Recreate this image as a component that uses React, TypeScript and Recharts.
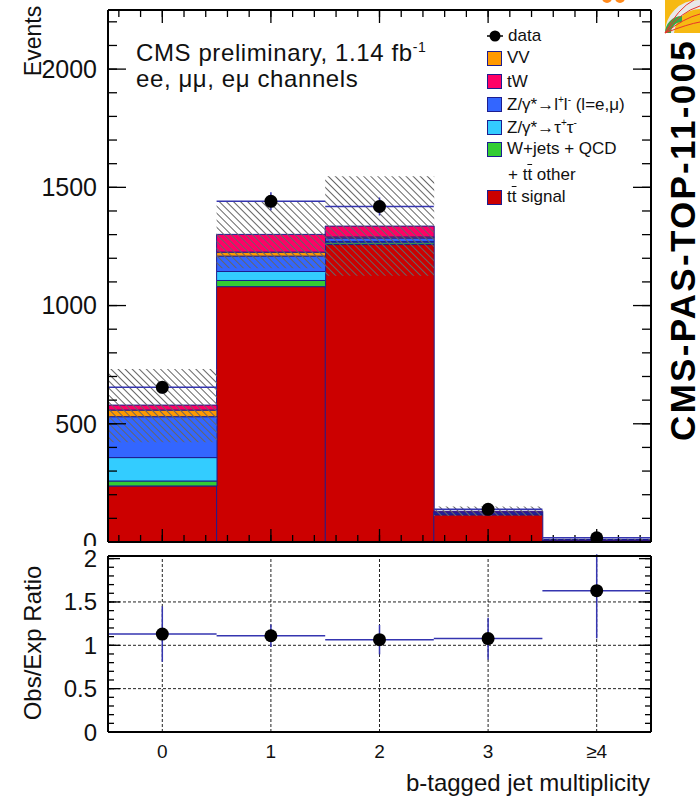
import React from "react";
import {
  ComposedChart,
  Bar,
  Scatter,
  XAxis,
  YAxis,
  ErrorBar,
  ReferenceLine,
} from "recharts";

const binLabels = ["0", "1", "2", "3", "≥4"];
const binCenters = [0, 1, 2, 3, 4];

// stacked expectation, bottom to top
const ttSignal = [237, 1080, 1258, 115, 9];
const wjetsQcd = [21, 26, 8, 3, 0.5];
const zTauTau = [99, 38, 5, 2, 0.3];
const zLL = [173, 65, 14, 5, 0.5];
const diboson = [28, 17, 5, 1, 0.2];
const singleTopTW = [21, 75, 46, 4, 0.5];

const observed = [654, 1441, 1419, 138, 18];
const observedErr = [26, 38, 38, 12, 4];
const systLow = [422, 1158, 1126, 110, 8];
const systHigh = [732, 1440, 1547, 150, 14];

const ratio = [1.13, 1.11, 1.065, 1.077, 1.63];
const ratioErr = [
  [0.32, 0.32],
  [0.13, 0.13],
  [0.17, 0.17],
  [0.24, 0.24],
  [0.55, 0.42],
];

const eventTicks = [0, 500, 1000, 1500, 2000];
const eventMinor = Array.from({ length: 23 }, (_, i) => i * 100);
const binMinor = Array.from({ length: 25 }, (_, i) => Math.round((-0.4 + i * 0.2) * 10) / 10);
const ratioTicks = [0, 0.5, 1, 1.5, 2];
const ratioMinor = Array.from({ length: 21 }, (_, i) => i / 10);
const ratioGrid = [0.5, 1, 1.5];

const X_DOM = [-0.5, 4.5];
const EV_DOM = [0, 2250];
const R_DOM = [0, 2.03];

const C = {
  tt: "#cc0000",
  wj: "#33cc33",
  ztt: "#33ccff",
  zll: "#3366ff",
  vv: "#ff9900",
  tw: "#ff0066",
  edge: "#1d1d8f",
  err: "#3535b0",
};

const FONT = '"Liberation Sans", Arial, Helvetica, sans-serif';
const INK = "#111";
const frameStroke = { stroke: "#000", strokeWidth: 2 };
const noLabel = () => <g />;

// plot-area sizes, used to turn tick lengths in px into data units
const PLOT_W = 543;
const MAIN_H = 532;
const xPerPx = (X_DOM[1] - X_DOM[0]) / PLOT_W;
const evPerPx = (EV_DOM[1] - EV_DOM[0]) / MAIN_H;

const rows = binLabels.map((label, i) => ({
  label,
  x: binCenters[i],
  tt: ttSignal[i],
  wj: wjetsQcd[i],
  ztt: zTauTau[i],
  zll: zLL[i],
  vv: diboson[i],
  tw: singleTopTW[i],
  syst: [systLow[i], systHigh[i]],
  data: observed[i],
  dataErr: observedErr[i],
  halfBin: 0.5,
  ratio: ratio[i],
  ratioErr: ratioErr[i],
}));

const DataDot = (p: any) => <circle cx={p.cx} cy={p.cy} r={6.5} fill="#000" />;

// inward ROOT-style ticks on left and right frame
function sideTicks(prefix: string, yAxisId: string, values: number[], lenPx: number) {
  const len = lenPx * xPerPx;
  return values.flatMap((v) => [
    <ReferenceLine
      key={`${prefix}l${v}`}
      xAxisId="bin"
      yAxisId={yAxisId}
      segment={[{ x: X_DOM[0], y: v }, { x: X_DOM[0] + len, y: v }]}
      stroke="#000"
      strokeWidth={1.3}
      ifOverflow="visible"
    />,
    <ReferenceLine
      key={`${prefix}r${v}`}
      xAxisId="bin"
      yAxisId={yAxisId}
      segment={[{ x: X_DOM[1] - len, y: v }, { x: X_DOM[1], y: v }]}
      stroke="#000"
      strokeWidth={1.3}
      ifOverflow="visible"
    />,
  ]);
}

// inward ticks on bottom and top frame of the upper pad
function edgeTicks(prefix: string, values: number[], lenPx: number) {
  const len = lenPx * evPerPx;
  return values.flatMap((v) => [
    <ReferenceLine
      key={`${prefix}b${v}`}
      xAxisId="bin"
      yAxisId="ev"
      segment={[{ x: v, y: EV_DOM[0] }, { x: v, y: EV_DOM[0] + len }]}
      stroke="#000"
      strokeWidth={1.3}
      ifOverflow="visible"
    />,
    <ReferenceLine
      key={`${prefix}t${v}`}
      xAxisId="bin"
      yAxisId="ev"
      segment={[{ x: v, y: EV_DOM[1] - len }, { x: v, y: EV_DOM[1] }]}
      stroke="#000"
      strokeWidth={1.3}
      ifOverflow="visible"
    />,
  ]);
}

const legendItems = [
  { key: "data", y: 36 },
  { key: "vv", y: 58, color: C.vv, text: <>VV</> },
  { key: "tw", y: 81.5, color: C.tw, text: <>tW</> },
  {
    key: "zll",
    y: 104.5,
    color: C.zll,
    text: (
      <>
        Z/γ*→l<sup style={{ fontSize: 10 }}>+</sup>l<sup style={{ fontSize: 10 }}>-</sup> (l=e,μ)
      </>
    ),
  },
  {
    key: "ztt",
    y: 127,
    color: C.ztt,
    text: (
      <>
        Z/γ*→τ<sup style={{ fontSize: 10 }}>+</sup>τ<sup style={{ fontSize: 10 }}>-</sup>
      </>
    ),
  },
  { key: "wj", y: 149, color: C.wj, text: <>W+jets + QCD</> },
  {
    key: "other",
    y: 175,
    text: (
      <>
        + t<span style={{ textDecoration: "overline" }}>t</span> other
      </>
    ),
  },
  {
    key: "tt",
    y: 197,
    color: C.tt,
    text: (
      <>
        t<span style={{ textDecoration: "overline" }}>t</span> signal
      </>
    ),
  },
];

function rotated(text: string, cx: number, cy: number, style: React.CSSProperties) {
  return (
    <div
      style={{
        position: "absolute",
        left: cx,
        top: cy,
        transform: "translate(-50%, -50%) rotate(-90deg)",
        whiteSpace: "nowrap",
        fontFamily: FONT,
        color: INK,
        lineHeight: 1,
        ...style,
      }}
    >
      {text}
    </div>
  );
}

export default function App() {
  return (
    <div
      style={{
        position: "absolute",
        left: 0,
        top: 0,
        width: 700,
        height: 799,
        background: "#fff",
        overflow: "hidden",
        fontFamily: FONT,
      }}
    >
      {/* upper pad; its "0" label is partly hidden by the ratio pad, as in ROOT */}
      <div style={{ position: "absolute", left: 0, top: 0, width: 700, height: 546, overflow: "hidden" }}>
        <ComposedChart
          width={700}
          height={560}
          data={rows}
          margin={{ top: 10, right: 49, bottom: 18, left: 0 }}
          barCategoryGap={0}
          barGap={0}
        >
          <defs>
            <pattern id="hatch" patternUnits="userSpaceOnUse" width="5" height="5" patternTransform="rotate(-45)">
              <line x1="2.5" y1="0" x2="2.5" y2="5" stroke="#666" strokeWidth="1" />
            </pattern>
          </defs>
          <XAxis xAxisId="cat" dataKey="label" type="category" hide />
          <XAxis xAxisId="band" dataKey="label" type="category" hide />
          <XAxis
            xAxisId="bin"
            dataKey="x"
            type="number"
            domain={X_DOM}
            allowDataOverflow
            ticks={binCenters}
            interval={0}
            orientation="bottom"
            mirror
            height={0.01}
            tick={noLabel}
            tickLine={false}
            axisLine={frameStroke}
          />
          <XAxis
            xAxisId="top"
            type="number"
            domain={X_DOM}
            allowDataOverflow
            ticks={binCenters}
            interval={0}
            orientation="top"
            mirror
            height={0.01}
            tick={noLabel}
            tickLine={false}
            axisLine={frameStroke}
          />
          <YAxis
            yAxisId="ev"
            type="number"
            domain={EV_DOM}
            allowDataOverflow
            ticks={eventTicks}
            interval={0}
            width={108}
            tickLine={false}
            tickSize={0}
            tickMargin={11}
            axisLine={frameStroke}
            tick={{ fontSize: 25, fill: INK, fontFamily: FONT }}
          />
          <YAxis
            yAxisId="right"
            type="number"
            domain={EV_DOM}
            ticks={eventTicks}
            interval={0}
            orientation="right"
            mirror
            width={0.01}
            tick={noLabel}
            tickLine={false}
            axisLine={frameStroke}
          />
          <YAxis yAxisId="scat" dataKey="data" type="number" domain={EV_DOM} allowDataOverflow hide />

          <Bar xAxisId="cat" yAxisId="ev" dataKey="tt" stackId="mc" fill={C.tt} stroke={C.edge} strokeWidth={1} isAnimationActive={false} />
          <Bar xAxisId="cat" yAxisId="ev" dataKey="wj" stackId="mc" fill={C.wj} stroke={C.edge} strokeWidth={1} isAnimationActive={false} />
          <Bar xAxisId="cat" yAxisId="ev" dataKey="ztt" stackId="mc" fill={C.ztt} stroke={C.edge} strokeWidth={1} isAnimationActive={false} />
          <Bar xAxisId="cat" yAxisId="ev" dataKey="zll" stackId="mc" fill={C.zll} stroke={C.edge} strokeWidth={1} isAnimationActive={false} />
          <Bar xAxisId="cat" yAxisId="ev" dataKey="vv" stackId="mc" fill={C.vv} stroke={C.edge} strokeWidth={1} isAnimationActive={false} />
          <Bar xAxisId="cat" yAxisId="ev" dataKey="tw" stackId="mc" fill={C.tw} stroke={C.edge} strokeWidth={1} isAnimationActive={false} />
          {/* systematic band, hatched over the stack */}
          <Bar xAxisId="band" yAxisId="ev" dataKey="syst" fill="url(#hatch)" stroke="none" isAnimationActive={false} />

          {sideTicks("evM", "ev", eventTicks, 18)}
          {sideTicks("evm", "ev", eventMinor, 9)}
          {edgeTicks("bM", binCenters, 13)}
          {edgeTicks("bm", binMinor, 7)}

          <Scatter xAxisId="bin" yAxisId="scat" dataKey="data" shape={DataDot} isAnimationActive={false}>
            <ErrorBar dataKey="halfBin" direction="x" width={0} stroke={C.err} strokeWidth={1.5} />
            <ErrorBar dataKey="dataErr" direction="y" width={0} stroke={C.err} strokeWidth={1.5} />
          </Scatter>
        </ComposedChart>
      </div>

      {/* ratio pad */}
      <div style={{ position: "absolute", left: 0, top: 546, width: 700, height: 254, overflow: "hidden" }}>
        <ComposedChart width={700} height={254} data={rows} margin={{ top: 10, right: 49, bottom: 0, left: 0 }}>
          <XAxis
            xAxisId="bin"
            dataKey="x"
            type="number"
            domain={X_DOM}
            allowDataOverflow
            ticks={binCenters}
            interval={0}
            tickFormatter={(v: number) => binLabels[binCenters.indexOf(v)]}
            height={68}
            tickLine={false}
            tickSize={0}
            tickMargin={13}
            axisLine={frameStroke}
            tick={{ fontSize: 19, fill: INK, fontFamily: FONT }}
          />
          <XAxis
            xAxisId="top"
            type="number"
            domain={X_DOM}
            allowDataOverflow
            ticks={binCenters}
            interval={0}
            orientation="top"
            mirror
            height={0.01}
            tick={noLabel}
            tickLine={false}
            axisLine={frameStroke}
          />
          <YAxis
            yAxisId="r"
            dataKey="ratio"
            type="number"
            domain={R_DOM}
            allowDataOverflow
            ticks={ratioTicks}
            interval={0}
            width={108}
            tickLine={false}
            tickSize={0}
            tickMargin={11}
            axisLine={frameStroke}
            tick={{ fontSize: 24, fill: INK, fontFamily: FONT }}
          />
          <YAxis
            yAxisId="right"
            type="number"
            domain={R_DOM}
            ticks={ratioTicks}
            interval={0}
            orientation="right"
            mirror
            width={0.01}
            tick={noLabel}
            tickLine={false}
            axisLine={frameStroke}
          />

          {ratioGrid.map((v) => (
            <ReferenceLine key={`h${v}`} xAxisId="bin" yAxisId="r" y={v} stroke="#222" strokeWidth={1} strokeDasharray="3 2" />
          ))}
          {binCenters.map((v) => (
            <ReferenceLine key={`v${v}`} xAxisId="bin" yAxisId="r" x={v} stroke="#222" strokeWidth={1} strokeDasharray="3 2" />
          ))}
          {sideTicks("rM", "r", ratioTicks, 12)}
          {sideTicks("rm", "r", ratioMinor, 6)}

          <Scatter xAxisId="bin" yAxisId="r" dataKey="ratio" shape={DataDot} isAnimationActive={false}>
            <ErrorBar dataKey="halfBin" direction="x" width={0} stroke={C.err} strokeWidth={1.5} />
            <ErrorBar dataKey="ratioErr" direction="y" width={0} stroke={C.err} strokeWidth={1.5} />
          </Scatter>
        </ComposedChart>
      </div>

      {/* titles */}
      {rotated("Events", 33, 41, { fontSize: 23 })}
      {rotated("Obs/Exp Ratio", 33, 643, { fontSize: 24 })}
      <div
        style={{
          position: "absolute",
          right: 50,
          top: 771,
          fontSize: 24,
          lineHeight: "24px",
          color: INK,
          whiteSpace: "nowrap",
        }}
      >
        b-tagged jet multiplicity
      </div>

      <div style={{ position: "absolute", left: 136, top: 35, fontSize: 24, lineHeight: "24px", color: INK, whiteSpace: "nowrap", letterSpacing: 0.6 }}>
        CMS preliminary, 1.14 fb<sup style={{ fontSize: 14 }}>-1</sup>
      </div>
      <div style={{ position: "absolute", left: 136, top: 67, fontSize: 24, lineHeight: "24px", color: INK, whiteSpace: "nowrap", letterSpacing: 0.6 }}>
        ee, μμ, eμ channels
      </div>

      {/* legend */}
      {legendItems.map((it) => (
        <div
          key={it.key}
          style={{
            position: "absolute",
            left: 487,
            top: it.y - 10,
            height: 20,
            display: "flex",
            alignItems: "center",
            fontSize: 17,
            color: INK,
            whiteSpace: "nowrap",
          }}
        >
          {it.key === "data" ? (
            <svg width={16} height={16} style={{ marginRight: 5 }}>
              <line x1={0} y1={8} x2={16} y2={8} stroke="#000" strokeWidth={1.5} />
              <circle cx={8} cy={8} r={5.5} fill="#000" />
            </svg>
          ) : it.color ? (
            <div
              style={{
                width: 13,
                height: 13,
                background: it.color,
                border: `1.5px solid ${C.edge}`,
                marginRight: 5,
              }}
            />
          ) : (
            <div style={{ width: 16, marginRight: 5 }} />
          )}
          <span>{it.key === "data" ? "data" : it.text}</span>
        </div>
      ))}

      {/* document tag */}
      {rotated("CMS-PAS-TOP-11-005", 682, 240, { fontSize: 35, fontWeight: 700, letterSpacing: 2.3, color: "#000" })}

      {/* small logo */}
      <svg width={700} height={40} style={{ position: "absolute", left: 0, top: 0 }}>
        <circle cx={607} cy={-2} r={5} fill="#ff8a1c" />
        <circle cx={620} cy={-2} r={5} fill="#ff8a1c" />
        <rect x={665} y={0} width={35} height={33} fill="#f6b912" />
        <path d="M665,33 A33,33 0 0 1 698,0 L700,0 L700,9 A26,26 0 0 0 674,33 Z" fill="#e8e8e8" />
        <path d="M665,33 A17,17 0 0 1 682,16 L682,22 A11,11 0 0 0 671,33 Z" fill="#3aa845" />
        <path d="M665,33 Q680,12 700,6" stroke="#e8352b" strokeWidth={1} fill="none" />
        <path d="M665,33 Q684,18 700,14" stroke="#e8352b" strokeWidth={1} fill="none" />
        <path d="M665,33 Q678,8 694,0" stroke="#e8352b" strokeWidth={1} fill="none" />
        <path d="M665,33 Q688,24 700,22" stroke="#e8352b" strokeWidth={1} fill="none" />
      </svg>
    </div>
  );
}
